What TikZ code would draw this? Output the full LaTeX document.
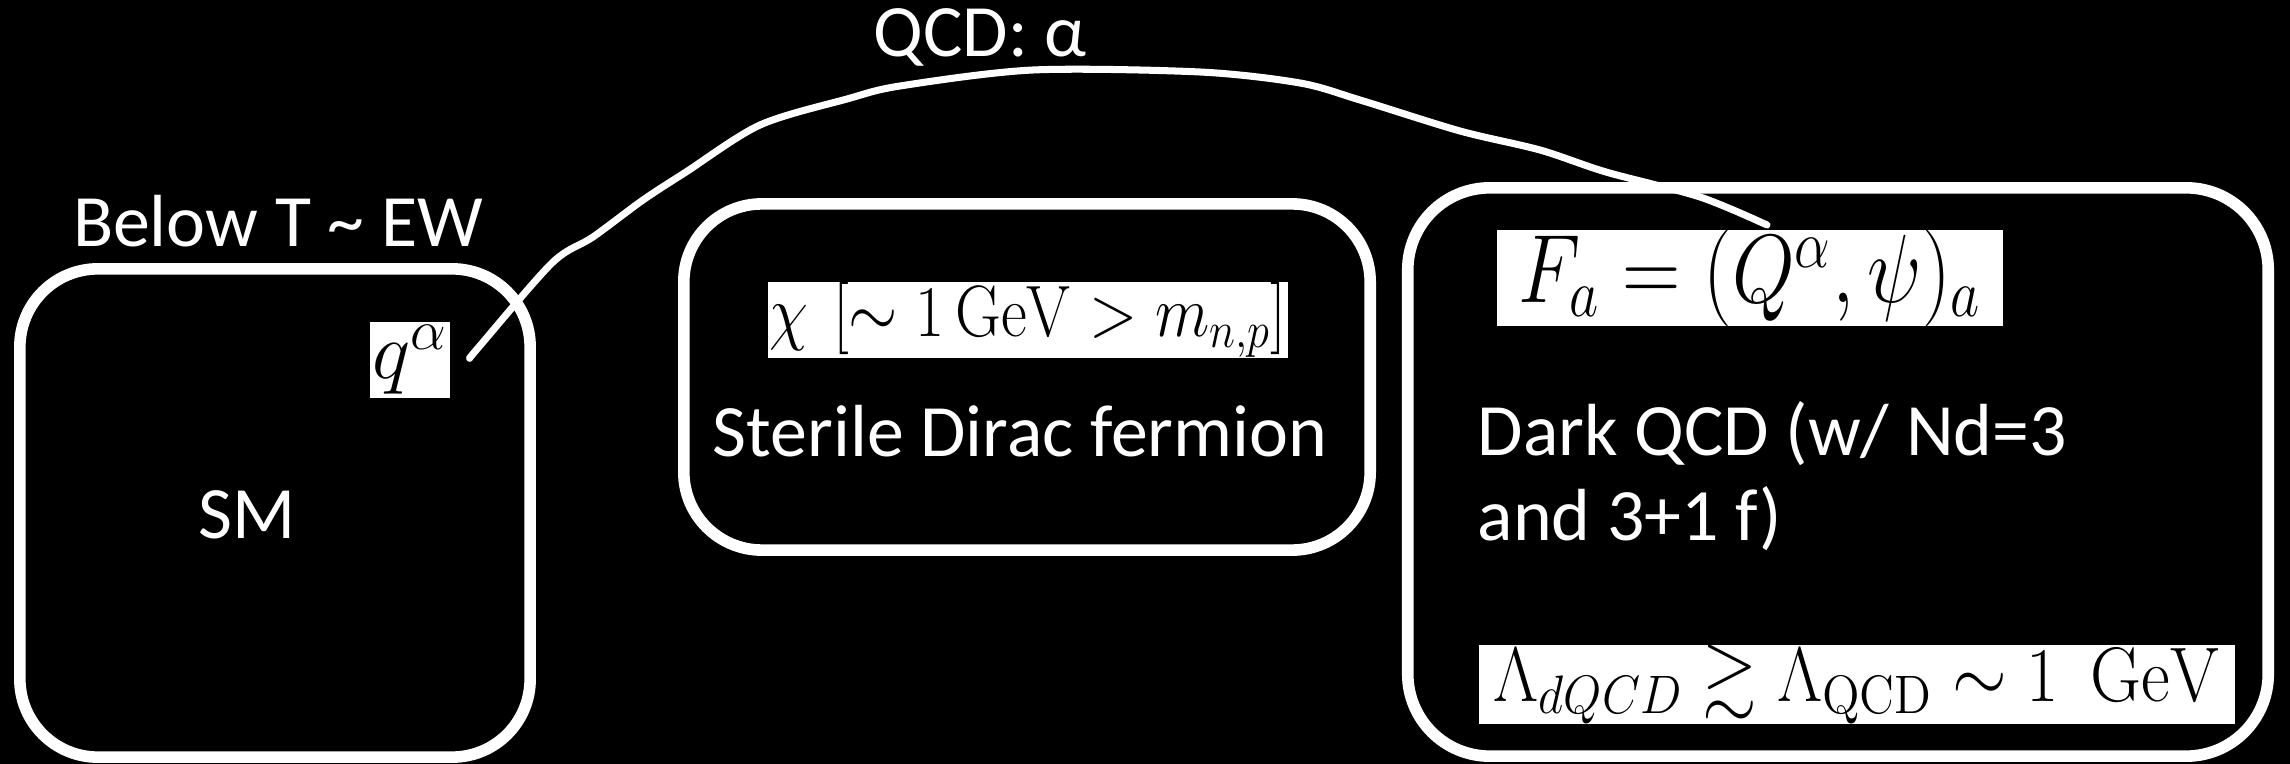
\RequirePackage{fix-cm}
\documentclass[tikz,border=0pt]{standalone}
\usepackage{amsmath,amssymb}
\usepackage[no-math]{fontspec}
\setmainfont{Carlito}
\begin{document}
\begin{tikzpicture}[x=0.01cm,y=-0.01cm,
  box/.style={draw=white, line width=3.3pt, rounded corners=0.78cm, inner sep=0pt},
  lbl/.style={text=white, font=\fontsize{21}{25}\selectfont, inner sep=0pt},
  formula/.style={fill=white, text=black, inner sep=0pt},
  curve/.style={draw=white, line width=2pt, line cap=round, line join=round}]
\fill[black] (0,0) rectangle (2290,764);
\useasboundingbox (0,0) rectangle (2290,764);
% boxes
\node[box, minimum width=5.10cm, minimum height=4.88cm] (smbox) at (275,513) {};
\node[box, minimum width=6.86cm, minimum height=3.46cm] (sterilebox) at (1027,377) {};
\node[box, minimum width=8.60cm, minimum height=5.68cm, rounded corners=0.82cm] (darkbox) at (1838,472) {};
% labels
\node[lbl, anchor=base] (below) at (278,247) {Below T \textasciitilde{} EW};
\node[lbl, anchor=base] (sm) at (247,539) {SM};
\node[lbl, anchor=base] (sterile) at (1020,457) {Sterile Dirac fermion};
\node[lbl, anchor=base] (qcd) at (980,57) {QCD: α};
\node[lbl, anchor=base west] (dark1) at (1477,456) {Dark QCD (w/ Nd=3};
\node[lbl, anchor=base west] (dark2) at (1477,541) {and 3+1 f)};
% formulas
\node[formula, minimum width=0.80cm, minimum height=0.76cm, font=\fontsize{23}{27}\selectfont] (qa) at (410,360) {\raisebox{-2pt}{$q^{\alpha}$}};
\node[formula, minimum width=5.19cm, minimum height=0.66cm, font=\fontsize{18}{21}\selectfont] (chi) at (1028,320) {\scalebox{1}[1.15]{$\chi\ \,[\sim 1\,\mathrm{GeV} > m_{n,p}]$}};
\node[formula, minimum width=5.06cm, minimum height=0.84cm, font=\fontsize{23}{27}\selectfont] (fa) at (1750,278) {\scalebox{1}[1.2]{$F_a = (Q^{\alpha}, \psi)_a$}};
\node[formula, minimum width=7.56cm, minimum height=0.71cm, font=\fontsize{20}{23}\selectfont] (lam) at (1857,684.5) {\scalebox{1}[1.1]{$\Lambda_{dQCD} \gtrsim \Lambda_{\mathrm{QCD}} \sim 1\ \ \mathrm{GeV}$}};
% connector
\coordinate (cstart) at (470,358);
\coordinate (cend) at (1767,225);
\draw[curve] plot[smooth, tension=0.5] coordinates {(cstart) (478,348) (552,263) (593,237) (643,200) (686,172) (760,125) (847,99) (900,86) (1033,70) (1200,72) (1300,83) (1360,100) (1460,131) (1540,150) (1606,172) (1700,197) (cend)};
\end{tikzpicture}
\end{document}
